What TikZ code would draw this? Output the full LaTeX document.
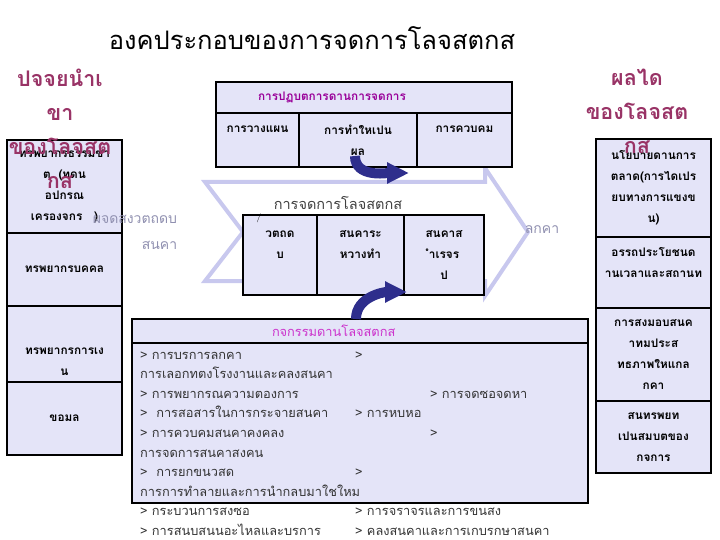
\documentclass[tikz,border=0pt]{standalone}
\usepackage{fontspec}
\newfontfamily\thaifont[Script=Thai]{Loma}
\usetikzlibrary{arrows.meta}
\definecolor{cellfill}{HTML}{E4E4F8}
\definecolor{chevline}{HTML}{C8C8EE}
\definecolor{headred}{HTML}{993366}
\definecolor{hdrpurple}{HTML}{990099}
\definecolor{actpink}{HTML}{CC33CC}
\definecolor{softgray}{HTML}{9090B0}
\definecolor{bendblue}{HTML}{2E2E8C}
\tikzset{
  cell/.style={rectangle, draw=black, line width=2.6pt, fill=cellfill,
    align=center, inner sep=0pt, text width=#1,
    font=\thaifont\bfseries\fontsize{11.8}{21}\selectfont},
  cell/.default=100pt,
  heading/.style={align=center, text=headred,
    font=\thaifont\bfseries\fontsize{21.5}{34}\selectfont},
  plain/.style={align=left, inner sep=0pt, text=black!80,
    font=\thaifont\fontsize{12.8}{19.6}\selectfont},
  faint/.style={text=softgray, inner sep=0pt, font=\thaifont\fontsize{14}{26}\selectfont},
  chev/.style={draw=chevline, line width=4pt, line join=miter},
  bendarrow/.style={-{Triangle[length=22pt,width=20pt]}, line width=10pt, draw=bendblue},
}

\begin{document}
\begin{tikzpicture}[x=1pt, y=-1pt]
  \useasboundingbox (0,0) rectangle (720,540);

  \node[inner sep=0pt, font=\thaifont\fontsize{25.5}{30}\selectfont] (title) at (312,38)
    {องคประกอบของการจดการโลจสตกส};

  \draw[chev] (205,182) -- (485,182) -- (485,168) -- (528,232) -- (485,296)
    -- (485,281) -- (205,281) -- (243,232) -- cycle;
  \node[inner sep=0pt, text=black!75, font=\thaifont\fontsize{14.5}{20}\selectfont]
    (flowlbl) at (338,203) {การจดการโลจสตกส};

  % inputs
  \node[cell=110pt, minimum width=115pt, minimum height=93pt] (nature) at (64.5,186.5)
    {ทรพยากรธรรมชา\\ต\ \ (ทดน\\อปกรณ\\เครองจกร\ \ \ )};
  \node[cell=110pt, minimum width=115pt, minimum height=73pt] (people) at (64.5,269.5)
    {ทรพยากรบคคล};
  \node[cell=110pt, minimum width=115pt, minimum height=76pt] (money) at (64.5,344)
    {\mbox{}\\\mbox{}\\ทรพยากรการเง\\น};
  \node[cell=110pt, minimum width=115pt, minimum height=73pt] (data) at (64.5,418.5)
    {ขอมล};

  \node[heading] (inhead) at (60,129) {ปจจยนำเ\\ขา\\ของโลจสต\\กส};

  % outputs
  \node[cell=108pt, minimum width=115pt, minimum height=98pt] (market) at (653.5,188)
    {นโยบายดานการ\\ตลาด(การไดเปร\\ยบทางการแขงข\\น)};
  \node[cell=108pt, minimum width=115pt, minimum height=71pt] (utility) at (653.5,272.5)
    {อรรถประโยชนด\\านเวลาและสถานท\\\mbox{}};
  \node[cell=108pt, minimum width=115pt, minimum height=93pt] (deliver) at (653.5,354.5)
    {การสงมอบสนค\\าทมประส\\ทธภาพใหแกล\\กคา};
  \node[cell=108pt, minimum width=115pt, minimum height=72pt] (asset) at (653.5,437)
    {สนทรพยท\\เปนสมบตของ\\กจการ};

  \node[heading] (outhead) at (637,111.5) {ผลได\\ของโลจสต\\กส};

  % management
  \node[cell=212pt, minimum width=296pt, minimum height=31pt, inner xsep=42pt,
    align=left, text=hdrpurple] (mgmt) at (364,97.5) {การปฏบตการดานการจดการ};
  \node[cell=80pt, minimum width=83pt, minimum height=54pt] (plan) at (257.5,140)
    {การวางแผน\\\mbox{}};
  \node[cell=112pt, minimum width=118pt, minimum height=54pt] (exec) at (358,140)
    {การทำใหเปน\\ผล};
  \node[cell=90pt, minimum width=95pt, minimum height=54pt] (ctrl) at (464.5,140)
    {การควบคม\\\mbox{}};

  % goods
  \node[cell=70pt, minimum width=74pt, minimum height=80pt] (raw) at (280,255)
    {วตถด\\บ\\\mbox{}};
  \node[cell=82pt, minimum width=87pt, minimum height=80pt] (wip) at (360.5,255)
    {สนคาระ\\หวางทำ\\\mbox{}};
  \node[cell=76pt, minimum width=80pt, minimum height=80pt] (fin) at (444,255)
    {สนคาส\\ำเรจร\\ป};
  \node[inner sep=0pt, font=\fontsize{9}{10}\selectfont] (rawmark) at (259,218) {/};

  \node[faint, align=right] (supplier) at (135,232) {ผจดสงวตถดบ\\สนคา};
  \node[faint] (customer) at (542,230) {ลกคา};

  % activities
  \node[cell=176pt, minimum width=456pt, minimum height=24pt, inner xsep=140pt,
    align=left, text=actpink, font=\thaifont\fontsize{12.8}{16}\selectfont]
    (acthead) at (360,331) {กจกรรมดานโลจสตกส};
  \node[cell=440pt, minimum width=456pt, minimum height=160pt] (actbody) at (360,423) {};
  \node[plain, anchor=west] (actleft) at (140,443.5)
    {> การบรการลกคา\\
     การเลอกทตงโรงงานและคลงสนคา\\
     > การพยากรณความตองการ\\
     > \ การสอสารในการกระจายสนคา\\
     > การควบคมสนคาคงคลง\\
     การจดการสนคาสงคน\\
     > \ การยกขนวสด\\
     การการทำลายและการนำกลบมาใชใหม\\
     > กระบวนการสงซอ\\
     > การสนบสนนอะไหลและบรการ};
  \node[plain, anchor=west] (actright) at (355,443.5)
    {>\\
     \mbox{}\\
     \hspace*{75pt}> การจดซอจดหา\\
     > การหบหอ\\
     \hspace*{75pt}>\\
     \mbox{}\\
     >\\
     \mbox{}\\
     > การจราจรและการขนสง\\
     > คลงสนคาและการเกบรกษาสนคา};

  \coordinate (bendAin) at (355,156);
  \coordinate (bendAout) at (409,173);
  \coordinate (bendBin) at (356,319);
  \coordinate (bendBout) at (407,292);
  \draw[bendarrow] (bendAin) to[out=-90, in=180] (bendAout);
  \draw[bendarrow] (bendBin) to[out=90, in=180] (bendBout);
\end{tikzpicture}
\end{document}
